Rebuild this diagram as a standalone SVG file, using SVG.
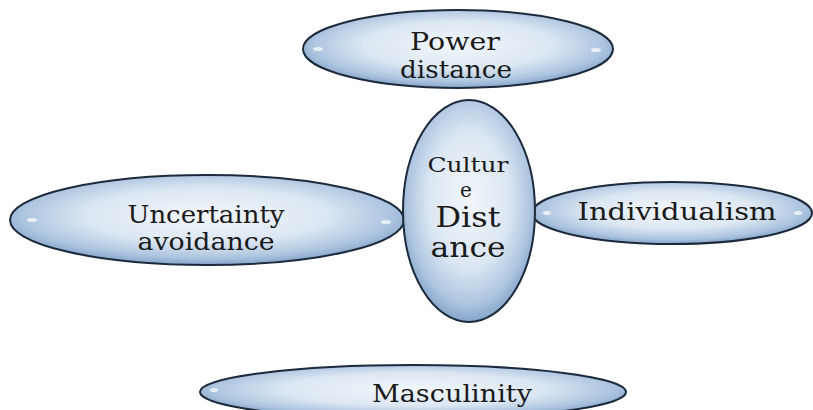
<svg xmlns="http://www.w3.org/2000/svg" width="813" height="410" viewBox="0 0 813 410">
<defs>
<radialGradient id="g" cx="50%" cy="45%" r="55%">
<stop offset="0" stop-color="#f2f6fb"/>
<stop offset="0.55" stop-color="#dce7f3"/>
<stop offset="0.85" stop-color="#adc5e0"/>
<stop offset="1" stop-color="#86a5ca"/>
</radialGradient>
<style>
.e{fill:url(#g);stroke:#1c2a3c;stroke-width:2}
.t{font-family:"DejaVu Serif","Liberation Serif",serif;fill:#1a1a1a;text-anchor:middle;font-size:25px}
.hl{fill:#ffffff;opacity:0.7}
</style>
</defs>
<g id="connectors"/>
<g id="power">
<ellipse class="e" cx="458" cy="49" rx="155" ry="39"/>
<ellipse class="hl" cx="318" cy="49" rx="5" ry="2"/>
<ellipse class="hl" cx="596" cy="50" rx="5" ry="2"/>
<text class="t" x="455" y="50" textLength="90" lengthAdjust="spacingAndGlyphs">Power</text>
<text class="t" x="456" y="78" textLength="112" lengthAdjust="spacingAndGlyphs">distance</text>
</g>
<g id="uncertainty">
<ellipse class="e" cx="207" cy="220" rx="197" ry="45"/>
<ellipse class="hl" cx="32" cy="220" rx="5" ry="2"/>
<ellipse class="hl" cx="386" cy="222" rx="5" ry="2"/>
<text class="t" x="206" y="223" textLength="157" lengthAdjust="spacingAndGlyphs">Uncertainty</text>
<text class="t" x="206" y="250" textLength="137" lengthAdjust="spacingAndGlyphs">avoidance</text>
</g>
<g id="individualism">
<ellipse class="e" cx="672" cy="213" rx="140" ry="31"/>
<ellipse class="hl" cx="547" cy="213" rx="4" ry="2"/>
<ellipse class="hl" cx="798" cy="213" rx="4" ry="2"/>
<text class="t" x="677" y="220" textLength="199" lengthAdjust="spacingAndGlyphs">Individualism</text>
</g>
<g id="culture">
<ellipse class="e" cx="469" cy="211" rx="66" ry="111"/>
<text class="t" x="468" y="172" style="font-size:20px" textLength="81" lengthAdjust="spacingAndGlyphs">Cultur</text>
<text class="t" x="466" y="197" style="font-size:20px">e</text>
<text class="t" x="468" y="227" style="font-size:27px" textLength="65" lengthAdjust="spacingAndGlyphs">Dist</text>
<text class="t" x="468" y="257" style="font-size:27px" textLength="75" lengthAdjust="spacingAndGlyphs">ance</text>
</g>
<g id="masculinity">
<ellipse class="e" cx="413" cy="392" rx="213" ry="27"/>
<ellipse class="hl" cx="214" cy="390" rx="4" ry="2"/>
<text class="t" x="452" y="402" textLength="160" lengthAdjust="spacingAndGlyphs">Masculinity</text>
</g>
</svg>
